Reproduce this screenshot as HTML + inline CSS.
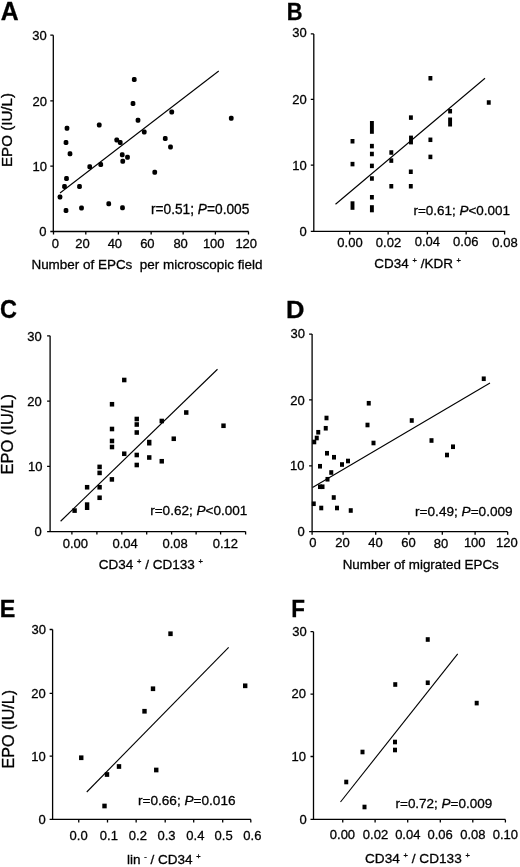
<!DOCTYPE html>
<html><head><meta charset="utf-8"><style>
html,body{margin:0;padding:0;background:#fff;}
svg{display:block;will-change:transform;filter:blur(0.3px);font-family:"Liberation Sans", sans-serif;}
.ax{stroke:#000;stroke-width:1.3;fill:none;}
.ln{stroke:#000;stroke-width:1.1;fill:none;}
text{fill:#000;stroke:#000;stroke-width:0.3px;}
rect{fill:#000;}
</style></head><body>
<svg width="520" height="867" viewBox="0 0 520 867">
<g><path d="M53.3 35.2V231.5H248.6M50.3 35.2H53.3M50.3 100.9H53.3M50.3 166.2H53.3M50.3 231.5H53.3M53.5 231.5v3M85.8 231.5v3M118.4 231.5v3M151.15 231.5v3M183.15 231.5v3M215.4 231.5v3M248.5 231.5v3" class="ax"/><path d="M60 193L218.75 71" class="ln"/><rect x="131.9" y="77.05" width="4.7" height="4.9" rx="1.6"/><rect x="130.65" y="101.05" width="4.7" height="4.9" rx="1.6"/><rect x="135.65" y="117.8" width="4.7" height="4.9" rx="1.6"/><rect x="141.9" y="129.55" width="4.7" height="4.9" rx="1.6"/><rect x="169.4" y="109.55" width="4.7" height="4.9" rx="1.6"/><rect x="162.9" y="136.05" width="4.7" height="4.9" rx="1.6"/><rect x="168.15" y="144.55" width="4.7" height="4.9" rx="1.6"/><rect x="228.9" y="115.8" width="4.7" height="4.9" rx="1.6"/><rect x="64.65" y="125.8" width="4.7" height="4.9" rx="1.6"/><rect x="63.65" y="140.05" width="4.7" height="4.9" rx="1.6"/><rect x="67.65" y="151.3" width="4.7" height="4.9" rx="1.6"/><rect x="96.9" y="122.55" width="4.7" height="4.9" rx="1.6"/><rect x="114.4" y="137.55" width="4.7" height="4.9" rx="1.6"/><rect x="117.9" y="140.05" width="4.7" height="4.9" rx="1.6"/><rect x="119.9" y="152.3" width="4.7" height="4.9" rx="1.6"/><rect x="125.15" y="154.8" width="4.7" height="4.9" rx="1.6"/><rect x="120.4" y="158.8" width="4.7" height="4.9" rx="1.6"/><rect x="98.4" y="162.05" width="4.7" height="4.9" rx="1.6"/><rect x="87.4" y="164.3" width="4.7" height="4.9" rx="1.6"/><rect x="152.4" y="169.8" width="4.7" height="4.9" rx="1.6"/><rect x="64.15" y="176.05" width="4.7" height="4.9" rx="1.6"/><rect x="62.15" y="184.05" width="4.7" height="4.9" rx="1.6"/><rect x="77.15" y="184.05" width="4.7" height="4.9" rx="1.6"/><rect x="57.65" y="194.55" width="4.7" height="4.9" rx="1.6"/><rect x="63.65" y="208.05" width="4.7" height="4.9" rx="1.6"/><rect x="79.15" y="205.55" width="4.7" height="4.9" rx="1.6"/><rect x="106.4" y="201.3" width="4.7" height="4.9" rx="1.6"/><rect x="120.15" y="205.3" width="4.7" height="4.9" rx="1.6"/></g>
<g><path d="M313.8 33.9V231.4H505.3M310.8 33.9H313.8M310.8 99.4H313.8M310.8 165.2H313.8M310.8 231.4H313.8M349.7 231.4v3M388.15 231.4v3M427.4 231.4v3M466.15 231.4v3M504.6 231.4v3" class="ax"/><path d="M335.5 204.25L485 78.25" class="ln"/><rect x="350.55" y="139" width="3.9" height="4.5"/><rect x="350.55" y="161.85" width="3.9" height="4.5"/><rect x="369.95" y="143.85" width="3.9" height="4.5"/><rect x="369.95" y="151.75" width="3.9" height="4.5"/><rect x="369.95" y="163.65" width="3.9" height="4.5"/><rect x="369.95" y="176.25" width="3.9" height="4.5"/><rect x="369.95" y="195" width="3.9" height="4.5"/><rect x="389.35" y="150.25" width="3.9" height="4.5"/><rect x="389.35" y="158.35" width="3.9" height="4.5"/><rect x="389.35" y="184" width="3.9" height="4.5"/><rect x="408.95" y="115.35" width="3.9" height="4.5"/><rect x="408.85" y="169.5" width="3.9" height="4.5"/><rect x="408.85" y="184" width="3.9" height="4.5"/><rect x="428.45" y="76" width="3.9" height="4.5"/><rect x="428.45" y="137.55" width="3.9" height="4.5"/><rect x="428.45" y="154.65" width="3.9" height="4.5"/><rect x="448.15" y="108.95" width="3.9" height="4.5"/><rect x="486.8" y="100.25" width="3.9" height="4.5"/><rect x="350.55" y="201.3" width="3.9" height="8.5"/><rect x="369.95" y="121" width="3.9" height="12.8"/><rect x="369.95" y="205.2" width="3.9" height="7.1"/><rect x="409.05" y="135.6" width="3.9" height="8.8"/><rect x="448.15" y="117.5" width="3.9" height="9"/></g>
<g><path d="M50.1 335.8V531.6H245.6M47.1 335.8H50.1M47.1 401.1H50.1M47.1 466.4H50.1M47.1 531.6H50.1M71.9 531.6v3M96.9 531.6v3M121.8 531.6v3M146.7 531.6v3M171.6 531.6v3M196.1 531.6v3M220.6 531.6v3M245.6 531.6v3" class="ax"/><path d="M60.6 521.25L217.5 369.25" class="ln"/><rect x="72.4" y="508.3" width="4.4" height="4.6"/><rect x="84.9" y="484.95" width="4.4" height="4.6"/><rect x="97.4" y="464.6" width="4.4" height="4.6"/><rect x="97.4" y="470.6" width="4.4" height="4.6"/><rect x="97.4" y="484.95" width="4.4" height="4.6"/><rect x="97.4" y="495.45" width="4.4" height="4.6"/><rect x="109.7" y="477.1" width="4.4" height="4.6"/><rect x="109.8" y="401.95" width="4.4" height="4.6"/><rect x="109.8" y="426.7" width="4.4" height="4.6"/><rect x="109.8" y="438.7" width="4.4" height="4.6"/><rect x="109.8" y="444.7" width="4.4" height="4.6"/><rect x="122.05" y="377.7" width="4.4" height="4.6"/><rect x="122.05" y="451.45" width="4.4" height="4.6"/><rect x="134.55" y="416.7" width="4.4" height="4.6"/><rect x="134.55" y="422.2" width="4.4" height="4.6"/><rect x="134.55" y="430.2" width="4.4" height="4.6"/><rect x="134.55" y="452.7" width="4.4" height="4.6"/><rect x="134.55" y="462.7" width="4.4" height="4.6"/><rect x="147.05" y="455.2" width="4.4" height="4.6"/><rect x="159.55" y="418.7" width="4.4" height="4.6"/><rect x="159.55" y="458.95" width="4.4" height="4.6"/><rect x="171.55" y="436.45" width="4.4" height="4.6"/><rect x="184.05" y="410.2" width="4.4" height="4.6"/><rect x="221.3" y="423.45" width="4.4" height="4.6"/><rect x="84.9" y="502.3" width="4.4" height="7.7"/><rect x="147.05" y="439.8" width="4.4" height="5.7"/></g>
<g><path d="M312.1 334.1V531.7H507.7M309.1 334.1H312.1M309.1 399.9H312.1M309.1 465.9H312.1M309.1 531.7H312.1M312.1 531.7v3M343.1 531.7v3M375.7 531.7v3M408.9 531.7v3M442.3 531.7v3M475.1 531.7v3M507.7 531.7v3" class="ax"/><path d="M312.5 487.5L490 383" class="ln"/><rect x="366.75" y="400.95" width="4" height="4.6"/><rect x="324.5" y="415.7" width="4" height="4.6"/><rect x="365.5" y="422.7" width="4" height="4.6"/><rect x="409.75" y="418.2" width="4" height="4.6"/><rect x="323.75" y="425.95" width="4" height="4.6"/><rect x="316.25" y="429.95" width="4" height="4.6"/><rect x="314.75" y="435.7" width="4" height="4.6"/><rect x="312.25" y="439.7" width="4" height="4.6"/><rect x="371.5" y="440.7" width="4" height="4.6"/><rect x="429.5" y="438.2" width="4" height="4.6"/><rect x="325" y="450.95" width="4" height="4.6"/><rect x="332" y="454.95" width="4" height="4.6"/><rect x="346" y="458.7" width="4" height="4.6"/><rect x="340" y="462.2" width="4" height="4.6"/><rect x="318" y="463.95" width="4" height="4.6"/><rect x="329.25" y="470.2" width="4" height="4.6"/><rect x="325.5" y="476.95" width="4" height="4.6"/><rect x="318" y="484.45" width="4" height="4.6"/><rect x="320.5" y="484.45" width="4" height="4.6"/><rect x="331.75" y="495.2" width="4" height="4.6"/><rect x="311.75" y="501.45" width="4" height="4.6"/><rect x="319.25" y="505.7" width="4" height="4.6"/><rect x="335" y="505.7" width="4" height="4.6"/><rect x="348.75" y="508.2" width="4" height="4.6"/><rect x="481.75" y="376.45" width="4" height="4.6"/><rect x="451" y="444.45" width="4" height="4.6"/><rect x="445" y="452.7" width="4" height="4.6"/></g>
<g><path d="M52.6 629.5V819.4H250.9M49.6 629.5H52.6M49.6 693.4H52.6M49.6 756.1H52.6M49.6 819.4H52.6M78.75 819.4v3M107.5 819.4v3M136.15 819.4v3M165.2 819.4v3M193.7 819.4v3M222.7 819.4v3M250.8 819.4v3" class="ax"/><path d="M86.75 792L228.65 647.3" class="ln"/><rect x="168.3" y="631.4" width="4.4" height="4.7"/><rect x="150.8" y="686.4" width="4.4" height="4.7"/><rect x="142.3" y="708.9" width="4.4" height="4.7"/><rect x="79.05" y="755.4" width="4.4" height="4.7"/><rect x="116.8" y="764.15" width="4.4" height="4.7"/><rect x="104.8" y="772.15" width="4.4" height="4.7"/><rect x="154.05" y="767.65" width="4.4" height="4.7"/><rect x="102.3" y="803.65" width="4.4" height="4.7"/><rect x="243" y="683.45" width="4.4" height="4.7"/></g>
<g><path d="M313.5 631.7V819.4H505.4M310.5 631.7H313.5M310.5 694.2H313.5M310.5 756.5H313.5M310.5 819.4H313.5M342.75 819.4v3M375.1 819.4v3M407.7 819.4v3M440.3 819.4v3M472.8 819.4v3M505.4 819.4v3" class="ax"/><path d="M340.5 802L457.7 653.8" class="ln"/><rect x="344.25" y="779.7" width="4" height="4.6"/><rect x="360.5" y="749.7" width="4" height="4.6"/><rect x="362.5" y="804.7" width="4" height="4.6"/><rect x="393" y="739.7" width="4" height="4.6"/><rect x="393" y="747.7" width="4" height="4.6"/><rect x="425.75" y="637.2" width="4" height="4.6"/><rect x="393.25" y="682.2" width="4" height="4.6"/><rect x="425.75" y="680.45" width="4" height="4.6"/><rect x="474.7" y="700.8" width="4" height="4.6"/></g>
<text transform="translate(0.63 20) scale(0.980 1)" font-size="25.26" font-weight="bold">A</text>
<text transform="translate(286.78 20) scale(0.919 1)" font-size="23.8" font-weight="bold">B</text>
<text transform="translate(0.05 318) scale(0.943 1)" font-size="24.87" font-weight="bold">C</text>
<text transform="translate(286.08 317.5) scale(1.046 1)" font-size="24.42" font-weight="bold">D</text>
<text transform="translate(-0.22 617.25) scale(0.947 1)" font-size="24.68" font-weight="bold">E</text>
<text transform="translate(291.2 616.9) scale(0.919 1)" font-size="24.42" font-weight="bold">F</text>
<text transform="translate(32.22 40.02)" font-size="13">30</text>
<text transform="translate(32.59 105.53)" font-size="13">20</text>
<text transform="translate(32.54 170.53)" font-size="13">10</text>
<text transform="translate(39.22 235.57)" font-size="13">0</text>
<text transform="translate(292.2 37.39)" font-size="13">30</text>
<text transform="translate(292.2 104.25)" font-size="13">20</text>
<text transform="translate(292.2 170.47)" font-size="13">10</text>
<text transform="translate(299.51 235.64)" font-size="13">0</text>
<text transform="translate(27.36 340.69)" font-size="13">30</text>
<text transform="translate(27.28 405.59)" font-size="13">20</text>
<text transform="translate(28 471.03)" font-size="13">10</text>
<text transform="translate(34.51 536.3)" font-size="13">0</text>
<text transform="translate(290.48 338.32)" font-size="13">30</text>
<text transform="translate(290.33 404.59)" font-size="13">20</text>
<text transform="translate(289.98 470.37)" font-size="13">10</text>
<text transform="translate(297.56 536.45)" font-size="13">0</text>
<text transform="translate(31.49 634.34)" font-size="13">30</text>
<text transform="translate(31.16 697.59)" font-size="13">20</text>
<text transform="translate(31.16 761.03)" font-size="13">10</text>
<text transform="translate(38.46 823.65)" font-size="13">0</text>
<text transform="translate(292.24 636.27)" font-size="13">30</text>
<text transform="translate(291.61 698.37)" font-size="13">20</text>
<text transform="translate(291.61 761.09)" font-size="13">10</text>
<text transform="translate(299.39 823.71)" font-size="13">0</text>
<text transform="translate(51.83 247.5)" font-size="13">0</text>
<text transform="translate(75.24 247.59)" font-size="13">20</text>
<text transform="translate(107.64 247.64)" font-size="13">40</text>
<text transform="translate(140.13 247.75)" font-size="13">60</text>
<text transform="translate(173.38 247.69)" font-size="13">80</text>
<text transform="translate(202.88 247.59)" font-size="13">100</text>
<text transform="translate(235.38 247.59)" font-size="13">120</text>
<text transform="translate(337.35 246.75)" font-size="13">0.00</text>
<text transform="translate(375.86 246.75)" font-size="13">0.02</text>
<text transform="translate(414.71 246.25)" font-size="13">0.04</text>
<text transform="translate(453.08 246.26)" font-size="13">0.06</text>
<text transform="translate(492.36 246.75)" font-size="13">0.08</text>
<text transform="translate(62.72 547.63)" font-size="13">0.00</text>
<text transform="translate(112.5 547.59)" font-size="13">0.04</text>
<text transform="translate(162.53 547.63)" font-size="13">0.08</text>
<text transform="translate(212.69 547.59)" font-size="13">0.12</text>
<text transform="translate(309.35 547.19)" font-size="13">0</text>
<text transform="translate(335.34 547.09)" font-size="13">20</text>
<text transform="translate(368.27 547.1)" font-size="13">40</text>
<text transform="translate(401.33 547.22)" font-size="13">60</text>
<text transform="translate(433.86 547.64)" font-size="13">80</text>
<text transform="translate(463.88 547.09)" font-size="13">100</text>
<text transform="translate(496.01 547.09)" font-size="13">120</text>
<text transform="translate(69.6 840.31)" font-size="13">0.0</text>
<text transform="translate(99.86 840.31)" font-size="13">0.1</text>
<text transform="translate(128.86 840.31)" font-size="13">0.2</text>
<text transform="translate(157.44 840.31)" font-size="13">0.3</text>
<text transform="translate(186.35 840.31)" font-size="13">0.4</text>
<text transform="translate(214.56 840.31)" font-size="13">0.5</text>
<text transform="translate(243.34 840.31)" font-size="13">0.6</text>
<text transform="translate(329.8 838.69)" font-size="13">0.00</text>
<text transform="translate(362.86 838.59)" font-size="13">0.02</text>
<text transform="translate(395.13 838.72)" font-size="13">0.04</text>
<text transform="translate(427.51 838.59)" font-size="13">0.06</text>
<text transform="translate(460.21 838.7)" font-size="13">0.08</text>
<text transform="translate(492.75 838.59)" font-size="13">0.10</text>
<text transform="translate(150.94 214)" font-size="13.72">r=0.51; <tspan font-style="italic">P</tspan>=0.005</text>
<text transform="translate(413.5 215)" font-size="13.46">r=0.61; <tspan font-style="italic">P</tspan>&lt;0.001</text>
<text transform="translate(150.18 515)" font-size="13.55">r=0.62; <tspan font-style="italic">P</tspan>&lt;0.001</text>
<text transform="translate(415.05 515.6)" font-size="13.61">r=0.49; <tspan font-style="italic">P</tspan>=0.009</text>
<text transform="translate(137.96 804.5)" font-size="13.62">r=0.66; <tspan font-style="italic">P</tspan>=0.016</text>
<text transform="translate(395.51 807.5)" font-size="13.49">r=0.72; <tspan font-style="italic">P</tspan>=0.009</text>
<text transform="translate(31.42 268.9)" font-size="13.46">Number of EPCs&#160; per microscopic field</text>
<text transform="translate(374.36 268.3)" font-size="13.47">CD34 <tspan font-size="7.5" dy="-5">+</tspan><tspan dy="5"> /KDR </tspan><tspan font-size="7.5" dy="-5">+</tspan></text>
<text transform="translate(98.68 569.1)" font-size="13.54">CD34 <tspan font-size="7.5" dy="-5">+</tspan><tspan dy="5"> / CD133 </tspan><tspan font-size="7.5" dy="-5">+</tspan></text>
<text transform="translate(342.64 568.8)" font-size="13.38">Number of migrated EPCs</text>
<text transform="translate(126.91 863.7)" font-size="13.52">lin <tspan font-size="7.5" dy="-5">-</tspan><tspan dy="5"> / CD34 </tspan><tspan font-size="7.5" dy="-5">+</tspan></text>
<text transform="translate(365.02 863.4)" font-size="13.61">CD34 <tspan font-size="7.5" dy="-5">+</tspan><tspan dy="5"> / CD133 </tspan><tspan font-size="7.5" dy="-5">+</tspan></text>
<text transform="translate(12.4 167) rotate(-90)" font-size="15.14">EPO (IU/L)</text>
<text transform="translate(12.58 474.47) rotate(-90)" font-size="16.47">EPO (IU/L)</text>
<text transform="translate(13.58 768.55) rotate(-90)" font-size="16.1">EPO (IU/L)</text>
</svg></body></html>
